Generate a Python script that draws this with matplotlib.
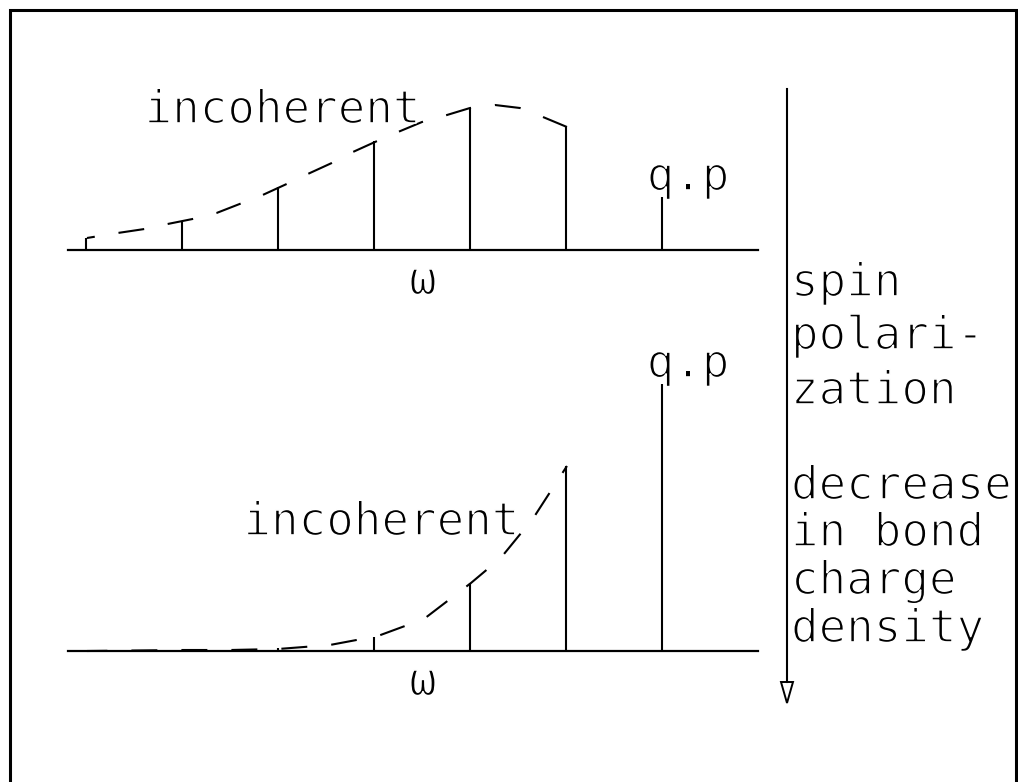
import matplotlib
matplotlib.use("Agg")
import matplotlib.pyplot as plt
import matplotlib.patheffects as pe
from matplotlib.patches import Polygon

plt.rcParams['font.family'] = ['DejaVu Sans Mono', 'DejaVu Sans']
plt.rcParams['lines.scale_dashes'] = False

# ---- data (omega in stick-spacing units, intensity in arbitrary units) ----
omega_inc = [0, 1, 2, 3, 4, 5]
omega_qp = 6

# upper panel
top_inc = [12, 28, 63, 109, 142, 123]
top_qp = 53
top_env_w = [0.01, 0.33, 0.61, 0.85, 1.11, 1.36, 1.60, 1.84, 2.09, 2.31, 2.56,
             2.78, 3.01, 3.25, 3.50, 3.76, 4.00, 4.26, 4.52, 4.76, 5.01]
top_env_i = [12, 17, 21, 26, 31, 37, 46, 55, 66, 76, 87,
             98, 108, 118, 128, 135, 142, 145, 142, 133, 123]

# lower panel
bot_inc = [1, 1, 3, 14, 68, 185]
bot_qp = 267
bot_env_w = [0.01, 1.01, 1.5, 2.0, 2.54, 3.04, 3.52, 4.01, 4.32, 4.66, 5.01]
bot_env_i = [0, 1, 1, 2, 6, 15, 32, 68, 93, 133, 185]

side_lines = ['spin', 'polari-', 'zation', 'decrease', 'in bond', 'charge', 'density']
side_base = [296, 349, 404, 499, 546, 594, 642]

W, H = 1018, 782
fig = plt.figure(figsize=(W / 100, H / 100), dpi=100)

thin = [pe.Stroke(linewidth=1.2, foreground='white')]
fs = 33

# overlay in pixel units: frame, arrow, side text
ax0 = fig.add_axes([0, 0, 1, 1])
ax0.set_xlim(0, W)
ax0.set_ylim(H, 0)
ax0.axis('off')
ax0.plot([10, 10, 1016.5, 1016.5], [H, 10, 10, H], color='black', lw=2.2,
         solid_joinstyle='miter')
ax0.plot([787, 787], [89, 682], color='black', lw=1.5)
ax0.add_patch(Polygon([[781, 682], [793, 682], [787, 703]], closed=True,
                      fill=False, edgecolor='black', lw=1.4))
for s, yb in zip(side_lines, side_base):
    ax0.text(791, yb, s, fontsize=fs, va='baseline', ha='left',
             path_effects=thin)


def panel(bottom_px, height_px, inc, qp, env_w, env_i, dash_off,
          inc_xy, qp_xy):
    ax = fig.add_axes([68 / W, (H - bottom_px) / H, 690 / W, height_px / H])
    ax.set_xlim(-0.1875, 7.0)
    ax.set_ylim(0, height_px)
    ax.axis('off')
    ax.patch.set_alpha(0)
    ax.axhline(0, color='black', lw=1.6, clip_on=False)
    ax.vlines(omega_inc, 0, inc, color='black', lw=1.5, clip_on=False)
    ax.vlines([omega_qp], 0, [qp], color='black', lw=1.5, clip_on=False)
    ax.plot(env_w, env_i, color='black', lw=1.5, clip_on=False,
            linestyle=(dash_off, (18.7, 17.3)))
    ax.text(inc_xy[0], inc_xy[1], 'incoherent', fontsize=fs, va='baseline',
            ha='left', path_effects=thin)
    ax.text(qp_xy[0], qp_xy[1], 'q.p', fontsize=fs, va='baseline',
            ha='left', path_effects=thin)
    ax.text(3.51, -44, 'ω', fontsize=fs, va='baseline', ha='center',
            path_effects=thin)
    return ax


panel(250, 170, top_inc, top_qp, top_env_w, top_env_i, 13,
      (0.61, 127), (5.84, 60))
panel(651, 300, bot_inc, bot_qp, bot_env_w, bot_env_i, 4,
      (1.64, 116), (5.84, 274))

fig.savefig('out.png', dpi=100)
